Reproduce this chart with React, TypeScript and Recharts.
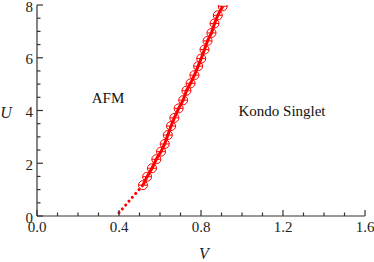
import React from "react"
import { ComposedChart, Scatter, XAxis, YAxis } from "recharts"

// phase boundary points (V, U)
const circleV = [0.517, 0.537, 0.561, 0.582, 0.605, 0.623, 0.638, 0.654, 0.67, 0.691, 0.713, 0.729, 0.749, 0.768, 0.786, 0.801, 0.817, 0.832, 0.851, 0.866, 0.882, 0.906]
const circleU = [1.17, 1.49, 1.81, 2.15, 2.44, 2.73, 3.07, 3.41, 3.72, 4.08, 4.39, 4.75, 5.03, 5.34, 5.68, 5.97, 6.31, 6.64, 6.94, 7.3, 7.61, 7.95]
const dottedV = [0.4, 0.455, 0.517]
const dottedU = [0.12, 0.62, 1.17]

const xTicks = [0, 0.1, 0.2, 0.3, 0.4, 0.5, 0.6, 0.7, 0.8, 0.9, 1.0, 1.1, 1.2, 1.3, 1.4, 1.5, 1.6]
const xMajor = [0, 0.4, 0.8, 1.2, 1.6]
const yTicks = [0, 0.5, 1, 1.5, 2, 2.5, 3, 3.5, 4, 4.5, 5, 5.5, 6, 6.5, 7, 7.5, 8]
const yMajor = [0, 2, 4, 6, 8]

const circles = circleV.map((v, i) => ({ V: v, U: circleU[i] }))
const dotted = dottedV.map((v, i) => ({ V: v, U: dottedU[i] }))

const RED = "#ff0000"
const AX = "#333"
const FONT = "'Liberation Serif', 'Times New Roman', serif"
const serif = { fontFamily: FONT }

const isMajor = (v: number, list: number[]) => list.some((m) => Math.abs(m - v) < 1e-6)

const BottomTick = (p: any) => {
  const major = isMajor(p.payload.value, xMajor)
  return (
    <g>
      <line x1={p.x} x2={p.x} y1={p.y} y2={p.y - (major ? 6 : 3.5)} stroke={AX} strokeWidth={1.2} />
      {major && (
        <text x={p.x} y={p.y + 16} textAnchor="middle" fontSize={15} style={serif} fill="#222">
          {p.payload.value.toFixed(1)}
        </text>
      )}
    </g>
  )
}

const TopTick = (p: any) => {
  const major = isMajor(p.payload.value, xMajor)
  return <line x1={p.x} x2={p.x} y1={p.y} y2={p.y + (major ? 6 : 3.5)} stroke={AX} strokeWidth={1.2} />
}

const LeftTick = (p: any) => {
  const major = isMajor(p.payload.value, yMajor)
  return (
    <g>
      <line x1={p.x} x2={p.x + (major ? 6 : 3.5)} y1={p.y} y2={p.y} stroke={AX} strokeWidth={1.2} />
      {major && (
        <text x={p.x - 4} y={p.y + 6.5} textAnchor="end" fontSize={15} style={serif} fill="#222">
          {p.payload.value}
        </text>
      )}
    </g>
  )
}

const RightTick = (p: any) => {
  const major = isMajor(p.payload.value, yMajor)
  return <line x1={p.x} x2={p.x - (major ? 6 : 3.5)} y1={p.y} y2={p.y} stroke={AX} strokeWidth={1.2} />
}

const Marker = (p: any) => (
  <g>
    <circle cx={p.cx} cy={p.cy} r={4.5} fill="none" stroke={RED} strokeWidth={1} />
    <line x1={p.cx - 4.5} x2={p.cx + 4.5} y1={p.cy} y2={p.cy} stroke={RED} strokeWidth={1} />
  </g>
)

const NoDot = () => <g />

export default function App() {
  const axisLine = { stroke: AX, strokeWidth: 1.2 }
  return (
    <div style={{ position: "absolute", left: 0, top: 0, width: 374, height: 262 }}>
      <ComposedChart width={374} height={262} margin={{ top: 5, right: 9, left: 0, bottom: 0 }}>
        <XAxis dataKey="V" type="number" domain={[0, 1.6]} ticks={xTicks} interval={0} height={46}
          tick={<BottomTick />} tickLine={false} tickSize={0} tickMargin={0} axisLine={axisLine} allowDataOverflow />
        <XAxis xAxisId="top" orientation="top" type="number" domain={[0, 1.6]} ticks={xTicks} interval={0} height={0}
          tick={<TopTick />} tickLine={false} tickSize={0} tickMargin={0} axisLine={axisLine} />
        <YAxis dataKey="U" type="number" domain={[0, 8]} ticks={yTicks} interval={0} width={37}
          tick={<LeftTick />} tickLine={false} tickSize={0} tickMargin={0} axisLine={axisLine} allowDataOverflow />
        <YAxis yAxisId="right" orientation="right" type="number" domain={[0, 8]} ticks={yTicks} interval={0} width={0}
          tick={<RightTick />} tickLine={false} tickSize={0} tickMargin={0} axisLine={axisLine} />
        <Scatter data={dotted} line={{ stroke: RED, strokeWidth: 3, strokeDasharray: "0.1 5", strokeLinecap: "round" }}
          shape={<NoDot />} isAnimationActive={false} />
        <Scatter data={circles} line={{ stroke: RED, strokeWidth: 3 }} shape={<Marker />} isAnimationActive={false} />
      </ComposedChart>
      <svg width={374} height={262} style={{ position: "absolute", left: 0, top: 0, pointerEvents: "none" }}>
        <text x={108} y={103} textAnchor="middle" fontSize={15} style={serif} fill="#111">AFM</text>
        <text x={282} y={116} textAnchor="middle" fontSize={15} style={serif} fill="#111">Kondo Singlet</text>
        <text x={6} y={118} textAnchor="middle" fontSize={16} fontStyle="italic" style={serif} fill="#222">U</text>
        <text x={204} y={259} textAnchor="middle" fontSize={16} fontStyle="italic" style={serif} fill="#222">V</text>
      </svg>
    </div>
  )
}
